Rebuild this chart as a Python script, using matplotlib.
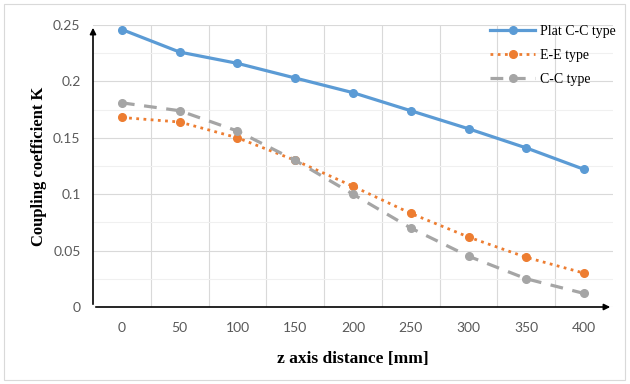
import matplotlib.pyplot as plt
import numpy as np
from matplotlib.patches import Rectangle

# Data
distances = ["0", "50", "100", "150", "200", "250", "300", "350", "400"]
plat_cc = [0.246, 0.226, 0.216, 0.203, 0.190, 0.174, 0.158, 0.141, 0.122]
ee_type = [0.168, 0.164, 0.150, 0.130, 0.107, 0.083, 0.062, 0.044, 0.030]
cc_type = [0.181, 0.174, 0.156, 0.130, 0.100, 0.070, 0.045, 0.025, 0.012]

x = np.arange(len(distances))

fig = plt.figure(figsize=(6.3, 3.84), dpi=100)
ax = fig.add_axes([93 / 630, 1 - 307 / 384, 520 / 630, 282 / 384])

# outer chart border
fig.patches.append(Rectangle((4 / 630, 4 / 384), 621 / 630, 376 / 384,
                             transform=fig.transFigure, fill=False,
                             edgecolor="#D9D9D9", linewidth=0.8))

ax.plot(x, plat_cc, color="#5B9BD5", lw=2.3, marker="o", ms=5.5, label="Plat C-C type", zorder=4)
ax.plot(x, ee_type, color="#ED7D31", lw=2.0, ls=(0, (1, 1.6)), marker="o", ms=5.5, label="E-E type", zorder=3)
ax.plot(x, cc_type, color="#A5A5A5", lw=2.3, ls=(0, (4, 3)), marker="o", ms=5.5, label="C-C type", zorder=3)

ax.set_xlim(-0.5, 8.5)
ax.set_ylim(0, 0.25)
ax.set_xticks(x)
ax.set_xticklabels(distances)
ax.set_xticks(np.arange(0.5, 8.5, 1), minor=True)
ax.set_yticks([0, 0.05, 0.1, 0.15, 0.2, 0.25])
ax.set_yticklabels(["0", "0.05", "0.1", "0.15", "0.2", "0.25"])
ax.set_yticks(np.arange(0.025, 0.25, 0.05), minor=True)

ax.grid(True, which="minor", axis="x", color="#D9D9D9", lw=0.8)
ax.grid(True, which="major", axis="y", color="#D9D9D9", lw=0.8)
ax.grid(True, which="minor", axis="y", color="#F0F0F0", lw=0.8)
ax.set_axisbelow(True)

for s in ax.spines.values():
    s.set_visible(False)
ax.tick_params(which="both", length=0)
ax.tick_params(axis="both", labelsize=10, labelcolor="#595959")
ax.tick_params(axis="x", pad=11)
ax.tick_params(axis="y", pad=9)
for lab in ax.get_xticklabels() + ax.get_yticklabels():
    lab.set_fontfamily("Lato")

# axis arrows
ax.annotate("", xy=(1.0, 0), xytext=(0, 0), xycoords="axes fraction",
            arrowprops=dict(arrowstyle="-|>", color="black", lw=1.2, mutation_scale=9))
ax.annotate("", xy=(0, 1.0), xytext=(0, 0), xycoords="axes fraction",
            arrowprops=dict(arrowstyle="-|>", color="black", lw=1.2, mutation_scale=9))

ax.set_xlabel("z axis distance [mm]", fontfamily="Liberation Serif", fontweight="bold", fontsize=12.5, labelpad=12)
ax.set_ylabel("Coupling coefficient K", fontfamily="Liberation Serif", fontweight="bold", fontsize=12, labelpad=4)

leg = ax.legend(loc="upper right", bbox_to_anchor=(1.03, 1.045), frameon=False,
                prop={"family": "Liberation Serif", "size": 10}, handlelength=3.2,
                handletextpad=0.4, labelspacing=0.8)

plt.savefig("out.png", dpi=100)
